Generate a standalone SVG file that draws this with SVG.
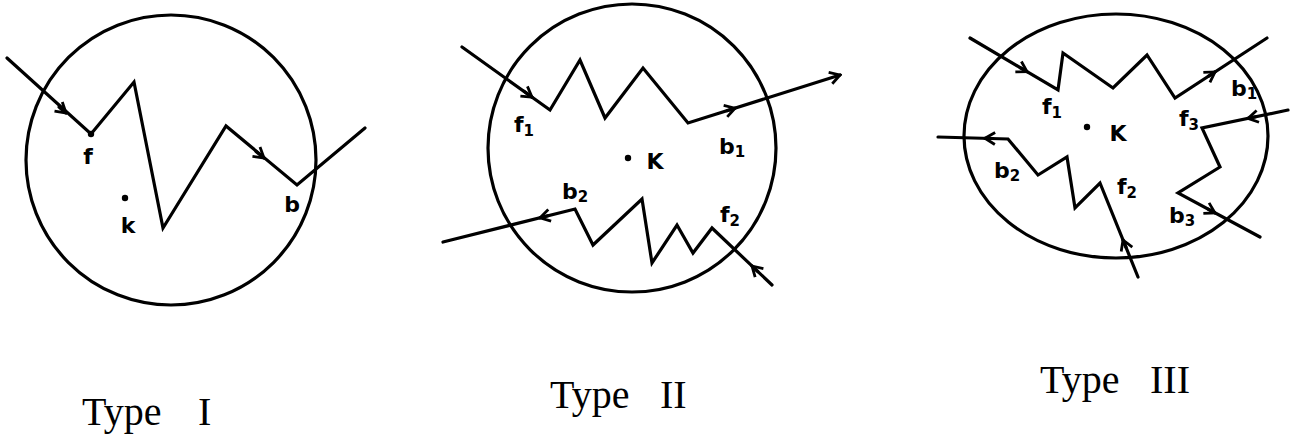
<svg xmlns="http://www.w3.org/2000/svg" width="1291" height="441" viewBox="0 0 1291 441">
<style>
.bd{fill:none;stroke:#000;stroke-width:3.2}
.ln{fill:none;stroke:#000;stroke-width:3.2;stroke-linejoin:miter;stroke-linecap:round}
.lb{font-family:"DejaVu Sans",sans-serif;font-size:22px;font-weight:bold;fill:#000;text-anchor:middle}
.ty{font-family:"Liberation Serif",serif;font-size:40px;fill:#000}
.dot{fill:#000}
</style>
<defs>
<marker id="arr" viewBox="-12 -8 14 16" markerUnits="userSpaceOnUse" markerWidth="14" markerHeight="16" refX="0" refY="0" orient="auto">
<path d="M-10,-6 L0,0 L-10,6" fill="none" stroke="#000" stroke-width="2.8"/>
</marker>
</defs>
<rect width="1291" height="441" fill="#fff"/>

<g id="type1">
<circle class="bd" cx="171" cy="160" r="145"/>
<circle class="dot" cx="91" cy="134" r="3.2"/>
<circle class="dot" cx="125" cy="198" r="3.2"/>
<text class="lb" x="88" y="164">f</text>
<text class="lb" x="128" y="233">k</text>
<text class="lb" x="292" y="212">b</text>
<text class="ty" x="82" y="425">Type<tspan x="198">I</tspan></text>
</g>

<g id="type2">
<circle class="bd" cx="632" cy="148" r="144"/>
<circle class="dot" cx="628" cy="158" r="3.2"/>
<text class="lb" x="524" y="132">f<tspan font-size="15" dy="4">1</tspan></text>
<text class="lb" x="732" y="154">b<tspan font-size="15" dy="3">1</tspan></text>
<text class="lb" x="655" y="169">K</text>
<text class="lb" x="575" y="199">b<tspan font-size="15" dy="3">2</tspan></text>
<text class="lb" x="730" y="222">f<tspan font-size="15" dy="4">2</tspan></text>
<text class="ty" x="550" y="408">Type<tspan x="660">II</tspan></text>
</g>

<g id="type3">
<ellipse class="bd" cx="1116" cy="136" rx="152" ry="122"/>
<circle class="dot" cx="1087" cy="127" r="3.2"/>
<text class="lb" x="1052" y="114">f<tspan font-size="15" dy="4">1</tspan></text>
<text class="lb" x="1244" y="96">b<tspan font-size="15" dy="3">1</tspan></text>
<text class="lb" x="1118" y="141">K</text>
<text class="lb" x="1189" y="126">f<tspan font-size="15" dy="4">3</tspan></text>
<text class="lb" x="1007" y="178">b<tspan font-size="15" dy="3">2</tspan></text>
<text class="lb" x="1127" y="194">f<tspan font-size="15" dy="4">2</tspan></text>
<text class="lb" x="1182" y="223">b<tspan font-size="15" dy="3">3</tspan></text>
<text class="ty" x="1040" y="393">Type<tspan x="1150">III</tspan></text>
</g>

<g id="connectors">
<path class="ln" d="M7,58 L91,134 L134,82 L163,228 L226,126 L297,185 L365,128"/>
<path class="ln" d="M59,107 L66,113" marker-end="url(#arr)"/>
<path class="ln" d="M256,151.5 L264,158" marker-end="url(#arr)"/>

<path class="ln" d="M462,47 L550,110 L580,60 L605,118 L643,68 L688,123 L840,75" marker-end="url(#arr)"/>
<path class="ln" d="M524,91.3 L532,97.1" marker-end="url(#arr)"/>
<path class="ln" d="M727,110.7 L735,108.2" marker-end="url(#arr)"/>
<path class="ln" d="M772,285 L712,228 L693,253 L677,225 L652,263 L642,199 L593,245 L575,209 L443,242"/>
<path class="ln" d="M757.8,271.5 L752,266" marker-end="url(#arr)"/>
<path class="ln" d="M548,215.8 L540,217.75" marker-end="url(#arr)"/>

<path class="ln" d="M970,38 L1058,90 L1063,53 L1113,88 L1147,55 L1175,98 L1267,38"/>
<path class="ln" d="M1020,67.6 L1027,71.7" marker-end="url(#arr)"/>
<path class="ln" d="M1208.3,76.3 L1215,71.9" marker-end="url(#arr)"/>
<path class="ln" d="M1288,110 L1202,128 L1220,167 L1178,193 L1260,237"/>
<path class="ln" d="M1255.8,116.8 L1248,118.4" marker-end="url(#arr)"/>
<path class="ln" d="M1208,209.1 L1215,212.9" marker-end="url(#arr)"/>
<path class="ln" d="M1138,277 L1100,183 L1075,208 L1067,157 L1038,175 L1008,139 L938,137"/>
<path class="ln" d="M1126,247.4 L1123,240" marker-end="url(#arr)"/>
<path class="ln" d="M993,138.5 L985,138.3" marker-end="url(#arr)"/>
</g>
</svg>
